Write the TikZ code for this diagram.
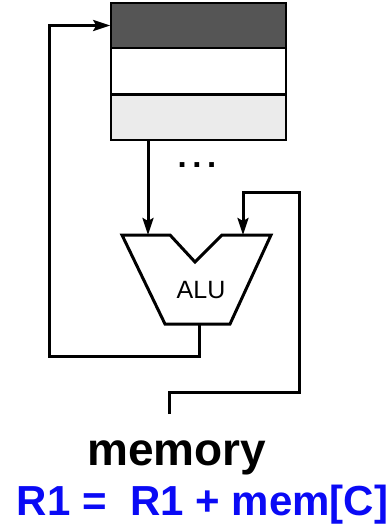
\documentclass[tikz,border=0pt]{standalone}
\usepackage{fontspec}
\setmainfont{Liberation Sans}
\usepackage{tikz}
\usetikzlibrary{arrows.meta,positioning,calc}
\definecolor{regdark}{RGB}{85,85,85}
\definecolor{reglight}{RGB}{235,235,235}
\definecolor{eqblue}{RGB}{10,10,245}

\begin{document}
\begin{tikzpicture}[
  x=1pt, y=-1pt,
  reg/.style={rectangle, draw, line width=1.6pt, minimum width=175pt,
              minimum height=45pt, inner sep=0pt},
  wire/.style={line width=3pt},
  arr/.style={wire, -{Stealth[length=17pt,width=11pt,inset=3pt]}}
]
  \useasboundingbox (0,0) rectangle (391,524);
  \node[reg, fill=regdark]  (r0) at (198.5,25.5) {};
  \node[reg, fill=white]    (r1) at (198.5,71) {};
  \node[reg, fill=reglight] (r2) at (198.5,117.5) {};
  \node[font=\bfseries\fontsize{33}{33}\selectfont, anchor=base] (dots) at (197,167) {.\,.\,.};

  \draw[wire, line join=miter] (122,235) -- (170,235) -- (195,262) -- (222,235)
    -- (271,235) -- (230,324) -- (165,324) -- cycle;
  \node[font=\fontsize{25}{25}\selectfont] (alu) at (201,290) {ALU};
  \coordinate (ina) at (148,235);
  \coordinate (inb) at (243,235);
  \coordinate (aluout) at (199,324);

  \coordinate (fb) at (49,356);
  \coordinate (mem) at (169,414);
  \coordinate (ra) at (299,392);
  \coordinate (rb) at (299,192);

  \draw[arr] (r2.south -| ina) -- (ina);
  \draw[arr] (aluout) |- (fb) |- (r0.west);
  \draw[arr] (mem) |- (ra) -- (rb) -| (inb);

  \node[font=\bfseries\fontsize{46}{46}\selectfont, anchor=base] (memlbl) at (177,465) {memory};
  \node[font=\bfseries\fontsize{42}{42}\selectfont, text=eqblue, anchor=base] (eq) at (202.5,515) {R1 =\ \ R1 + mem[C]};
\end{tikzpicture}
\end{document}
